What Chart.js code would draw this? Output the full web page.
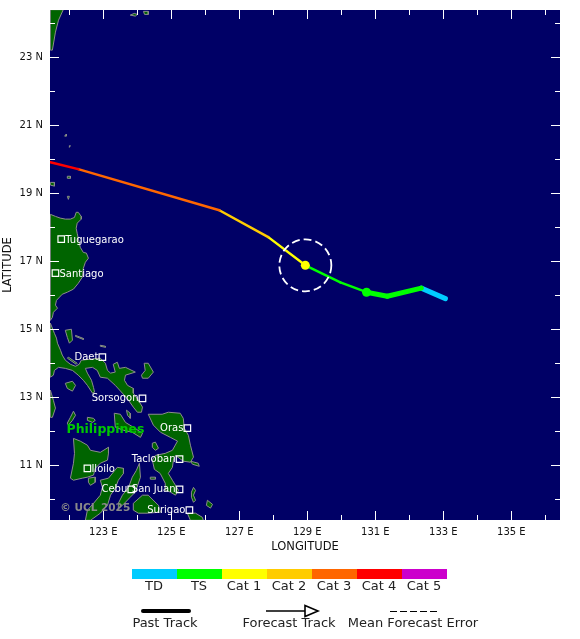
<!DOCTYPE html>
<html>
<head>
<meta charset="utf-8">
<title>Track</title>
<script src="https://cdn.jsdelivr.net/npm/chart.js@4"></script>
<style>
  html, body { margin: 0; padding: 0; background: #fff; }
  canvas { display: block; }
</style>
</head>
<body>
<canvas id="trackChart" width="580" height="639"></canvas>
<script>
// axis ticks
const lonTicks = [122,123,124,125,126,127,128,129,130,131,132,133,134,135,136];
const latTicks = [10,11,12,13,14,15,16,17,18,19,20,21,22,23,24];

// storm track, one entry per fix
const trackLon = [121.44,122.26,126.41,127.85,128.94,129.97,130.74,131.35,132.35,133.06];
const trackLat = [19.91,19.71,18.50,17.71,16.88,16.38,16.09,15.97,16.21,15.90];
// colour of the segment ending at each fix (the first one is unused)
const segmentCat = [null,"Cat 4","Cat 3","Cat 2","Cat 1","TS","TS","TS","TS","TD"];
const segmentPast = [false,false,false,false,false,false,false,true,true,true];

const categories = ["TD","TS","Cat 1","Cat 2","Cat 3","Cat 4","Cat 5"];
const catColours = ["#00ccff","#00ff00","#ffff00","#ffcc00","#ff6600","#ff0000","#cc00cc"];

// markers on the track
const markerLon = [128.94,130.74];
const markerLat = [16.88,16.09];
const markerCat = ["Cat 1","TS"];
const errorRadiusDeg = 0.765;

// cities
const cityNames = ["Tuguegarao","Santiago","Daet","Sorsogon","Oras","Tacloban","Iloilo","Cebu","San Juan","Surigao"];
const cityLon = [121.76,121.59,122.97,124.15,125.47,125.24,122.53,123.82,125.24,125.53];
const cityLat = [17.65,16.65,14.18,12.97,12.09,11.18,10.91,10.29,10.29,9.68];
const citySide = ["right","right","left","left","left","left","right","left","left","left"];

// land outlines as [lon, lat]
const landTaiwan = [[121.44,24.40],[121.82,24.40],[121.68,24.09],[121.59,23.74],[121.50,23.21],[121.44,23.21]];
const landYaeyama1 = [[123.79,24.24],[123.91,24.29],[124.00,24.26],[123.94,24.21]];
const landYaeyama2 = [[124.18,24.35],[124.32,24.35],[124.32,24.26],[124.21,24.26]];
const landBabuyan1 = [[121.44,19.32],[121.56,19.32],[121.56,19.21],[121.44,19.24]];
const landBabuyan2 = [[121.94,18.91],[122.00,18.91],[121.97,18.82]];
const landBabuyan3 = [[121.94,19.50],[122.03,19.50],[122.03,19.44],[121.94,19.44]];
const landBatan1 = [[121.86,20.68],[121.91,20.74],[121.91,20.68]];
const landBatan2 = [[122.00,20.40],[122.03,20.40],[122.00,20.35]];
const landLuzonNorth = [[121.44,18.38],[121.59,18.32],[121.73,18.27],[121.88,18.24],[122.03,18.24],[122.15,18.29],[122.20,18.44],[122.26,18.44],[122.35,18.32],[122.35,18.24],[122.23,18.12],[122.20,17.97],[122.23,17.82],[122.26,17.68],[122.32,17.41],[122.41,17.26],[122.50,17.24],[122.56,17.09],[122.47,16.97],[122.41,16.79],[122.38,16.53],[122.26,16.35],[122.12,16.18],[121.94,16.09],[121.79,16.03],[121.62,15.85],[121.59,15.71],[121.65,15.62],[121.53,15.50],[121.50,15.35],[121.44,15.26]];
const landLuzonSouth = [[121.44,15.18],[121.56,14.88],[121.62,14.74],[121.65,14.59],[121.74,14.38],[121.79,14.24],[121.88,14.09],[122.03,13.97],[122.18,13.91],[122.29,13.97],[122.35,14.09],[122.62,14.12],[122.91,14.15],[123.06,14.00],[123.12,13.79],[123.21,13.71],[123.35,13.74],[123.29,13.97],[123.41,14.03],[123.47,13.85],[123.65,13.88],[123.94,13.74],[123.65,13.65],[123.62,13.50],[123.71,13.35],[123.88,13.26],[123.88,13.12],[124.03,12.91],[124.15,12.71],[124.12,12.56],[124.00,12.56],[123.88,12.71],[123.74,12.91],[123.56,13.12],[123.35,13.35],[123.12,13.56],[122.91,13.59],[122.82,13.79],[122.68,13.88],[122.47,13.85],[122.53,13.71],[122.65,13.50],[122.71,13.29],[122.74,13.15],[122.68,13.12],[122.53,13.35],[122.41,13.50],[122.26,13.65],[122.09,13.79],[121.88,13.85],[121.68,13.88],[121.56,13.79],[121.53,13.65],[121.44,13.59]];
const landPolillo = [[121.88,14.97],[122.06,15.00],[122.09,14.68],[122.00,14.59],[121.94,14.76]];
const landIslet1 = [[121.97,14.18],[122.23,14.00],[122.20,13.97],[121.94,14.15]];
const landIslet2 = [[122.18,14.82],[122.41,14.73],[122.41,14.70],[122.18,14.79]];
const landIslet3 = [[122.91,14.53],[123.06,14.50],[123.06,14.47],[122.91,14.50]];
const landMarinduque = [[121.88,13.41],[122.09,13.47],[122.18,13.35],[122.09,13.18],[121.94,13.26]];
const landCatanduanes = [[124.20,14.00],[124.32,14.00],[124.47,13.74],[124.32,13.56],[124.15,13.56],[124.12,13.65],[124.23,13.79]];
const landMindoro = [[121.44,13.21],[121.53,12.91],[121.59,12.68],[121.50,12.41],[121.44,12.41]];
const landTablas = [[122.12,12.59],[122.18,12.47],[122.09,12.32],[121.97,12.18],[121.94,12.24],[122.03,12.41]];
const landSibuyan = [[122.53,12.41],[122.71,12.38],[122.76,12.32],[122.68,12.26],[122.53,12.32]];
const landMasbate = [[123.32,12.53],[123.50,12.50],[123.65,12.26],[123.88,12.12],[124.15,11.94],[124.09,11.82],[123.85,11.97],[123.59,12.03],[123.35,12.12]];
const landTicao = [[123.68,12.62],[123.79,12.53],[123.79,12.38],[123.71,12.47]];
const landSamarLeyte = [[124.32,12.50],[124.73,12.50],[124.91,12.56],[125.26,12.53],[125.35,12.38],[125.38,12.09],[125.50,11.88],[125.56,11.59],[125.65,11.24],[125.56,11.09],[125.35,11.12],[125.12,11.29],[125.06,11.15],[125.03,10.94],[124.91,10.76],[125.03,10.56],[125.12,10.41],[125.21,10.26],[125.12,10.12],[124.97,10.21],[124.82,10.26],[124.82,10.47],[124.67,10.76],[124.50,10.88],[124.44,11.15],[124.53,11.29],[124.82,11.35],[125.03,11.44],[125.18,11.71],[124.97,11.82],[124.68,11.97],[124.47,12.18]];
const landBiliran = [[124.44,11.65],[124.53,11.68],[124.62,11.50],[124.53,11.44],[124.44,11.53]];
const landGuiuan = [[125.56,11.12],[125.79,11.06],[125.82,10.97],[125.62,11.03]];
const landDinagat = [[125.65,10.35],[125.71,10.26],[125.65,10.12],[125.71,9.97],[125.65,9.91],[125.59,10.06],[125.59,10.21]];
const landSiargao = [[126.06,9.97],[126.21,9.85],[126.15,9.74],[126.03,9.82]];
const landMindanao = [[125.47,9.59],[125.71,9.59],[125.91,9.47],[125.94,9.38],[125.56,9.38]];
const landBohol = [[123.88,9.88],[124.15,10.12],[124.32,10.12],[124.62,9.82],[124.68,9.62],[124.29,9.59],[124.03,9.59],[123.88,9.68]];
const landCamotes = [[124.38,10.65],[124.53,10.65],[124.53,10.59],[124.38,10.59]];
const landCebu = [[124.06,11.06],[124.09,10.65],[123.94,10.21],[123.79,10.06],[123.56,9.82],[123.44,9.74],[123.44,9.88],[123.56,10.12],[123.74,10.35],[123.85,10.65],[123.97,10.85]];
const landPanay = [[122.12,11.79],[122.32,11.71],[122.53,11.59],[122.62,11.44],[122.91,11.38],[123.15,11.53],[123.15,11.35],[123.12,11.15],[122.91,11.06],[122.76,10.91],[122.71,10.71],[122.53,10.65],[122.38,10.62],[122.12,10.56],[122.03,10.62],[122.12,11.06],[122.15,11.35]];
const landGuimaras = [[122.56,10.62],[122.76,10.65],[122.76,10.50],[122.62,10.41],[122.56,10.50]];
const landNegros = [[122.91,10.56],[123.15,10.62],[123.41,10.94],[123.59,10.91],[123.59,10.76],[123.44,10.56],[123.35,10.32],[123.21,10.12],[123.12,9.82],[122.91,9.59],[122.62,9.38],[122.47,9.38],[122.53,9.68],[122.71,9.88],[122.91,10.12],[122.97,10.35]];

const landShapes = [landTaiwan,landYaeyama1,landYaeyama2,landBabuyan1,landBabuyan2,landBabuyan3,landBatan1,landBatan2,landLuzonNorth,landLuzonSouth,landPolillo,landIslet1,landIslet2,landIslet3,landMarinduque,landCatanduanes,landMindoro,landTablas,landSibuyan,landMasbate,landTicao,landSamarLeyte,landBiliran,landGuiuan,landDinagat,landSiargao,landMindanao,landBohol,landCamotes,landCebu,landPanay,landGuimaras,landNegros];

const NAVY = "#000066";
const FONT = '"DejaVu Sans"';

function catColour(name) {
  return catColours[categories.indexOf(name)];
}

const datasets = [];

// land first, highest order so it is painted under everything
landShapes.forEach(function (shape) {
  const pts = shape.map(function (p) { return { x: p[0], y: p[1] }; });
  pts.push(pts[0]);
  datasets.push({
    data: pts,
    showLine: true,
    fill: "shape",
    backgroundColor: "#006400",
    borderColor: "#8c8c8c",
    borderWidth: 1,
    pointRadius: 0,
    tension: 0,
    order: 10
  });
});

// one small dataset for each track segment so each gets its own colour
for (let i = 1; i < trackLon.length; i++) {
  datasets.push({
    data: [{ x: trackLon[i - 1], y: trackLat[i - 1] }, { x: trackLon[i], y: trackLat[i] }],
    showLine: true,
    borderColor: catColour(segmentCat[i]),
    borderWidth: segmentPast[i] ? 5 : 2.5,
    borderCapStyle: "round",
    pointRadius: 0,
    tension: 0,
    order: 5
  });
}

datasets.push({
  data: markerLon.map(function (lon, i) { return { x: lon, y: markerLat[i] }; }),
  pointRadius: 4.5,
  pointBackgroundColor: markerCat.map(catColour),
  pointBorderWidth: 0,
  order: 1
});

datasets.push({
  data: cityLon.map(function (lon, i) { return { x: lon, y: cityLat[i] }; }),
  pointStyle: "rect",
  pointRadius: 4.6,
  pointBackgroundColor: "rgba(0,0,0,0)",
  pointBorderColor: "#ffffff",
  pointBorderWidth: 1.2,
  order: 2
});

// navy sea behind the datasets
const seaPlugin = {
  id: "sea",
  beforeDatasetsDraw(chart) {
    const a = chart.chartArea;
    chart.ctx.fillStyle = NAVY;
    chart.ctx.fillRect(a.left, a.top, a.width, a.height);
  }
};

// ticks point inwards on all four sides, labels and error circle go on top
const overlayPlugin = {
  id: "overlay",
  afterDatasetsDraw(chart) {
    const ctx = chart.ctx;
    const a = chart.chartArea;
    const xs = chart.scales.x;
    const ys = chart.scales.y;

    ctx.save();
    ctx.strokeStyle = "#ffffff";
    ctx.lineWidth = 1;
    ctx.beginPath();
    lonTicks.forEach(function (v) {
      const len = v % 2 ? 9 : 5;
      const px = Math.floor(xs.getPixelForValue(v)) + 0.5;
      ctx.moveTo(px, a.top);
      ctx.lineTo(px, a.top + len);
      ctx.moveTo(px, a.bottom);
      ctx.lineTo(px, a.bottom - len);
    });
    latTicks.forEach(function (v) {
      const len = v % 2 ? 9 : 5;
      const py = Math.floor(ys.getPixelForValue(v)) + 0.5;
      ctx.moveTo(a.left, py);
      ctx.lineTo(a.left + len, py);
      ctx.moveTo(a.right, py);
      ctx.lineTo(a.right - len, py);
    });
    ctx.stroke();

    // mean forecast error circle
    const cx = xs.getPixelForValue(markerLon[0]);
    const cy = ys.getPixelForValue(markerLat[0]);
    const r = xs.getPixelForValue(markerLon[0] + errorRadiusDeg) - cx;
    ctx.lineWidth = 1.8;
    ctx.setLineDash([8, 4]);
    ctx.beginPath();
    ctx.arc(cx, cy, r, 0, Math.PI * 2);
    ctx.stroke();
    ctx.setLineDash([]);

    // city names
    ctx.fillStyle = "#ffffff";
    ctx.font = "10px " + FONT;
    ctx.textBaseline = "middle";
    cityNames.forEach(function (name, i) {
      const px = xs.getPixelForValue(cityLon[i]);
      const py = ys.getPixelForValue(cityLat[i]);
      if (citySide[i] === "right") {
        ctx.textAlign = "left";
        ctx.fillText(name, px + 4, py + 1);
      } else {
        ctx.textAlign = "right";
        ctx.fillText(name, px - 4, py);
      }
    });

    ctx.textAlign = "center";
    ctx.fillStyle = "#00c800";
    ctx.font = "bold 12.5px " + FONT;
    ctx.fillText("Philippines", xs.getPixelForValue(123.06), ys.getPixelForValue(12.03));
    ctx.fillStyle = "#8a8a8a";
    ctx.font = "bold 10.5px " + FONT;
    ctx.fillText("© UCL 2025", xs.getPixelForValue(122.76), ys.getPixelForValue(9.68) - 2);
    ctx.restore();
  },

  // colour key and line key under the plot
  afterDraw(chart) {
    const ctx = chart.ctx;
    ctx.save();
    ctx.font = "13px " + FONT;
    ctx.textAlign = "center";
    ctx.textBaseline = "middle";
    categories.forEach(function (name, i) {
      ctx.fillStyle = catColours[i];
      ctx.fillRect(132 + i * 45, 569, 45, 10);
      ctx.fillStyle = "#222222";
      ctx.fillText(name, 154 + i * 45, 587);
    });

    ctx.strokeStyle = "#000000";
    ctx.lineCap = "round";
    ctx.lineWidth = 4;
    ctx.beginPath();
    ctx.moveTo(143, 611);
    ctx.lineTo(189, 611);
    ctx.stroke();
    ctx.lineCap = "butt";
    ctx.lineWidth = 1.6;
    ctx.beginPath();
    ctx.moveTo(266, 611);
    ctx.lineTo(305, 611);
    ctx.moveTo(305, 605.5);
    ctx.lineTo(318, 611);
    ctx.lineTo(305, 616.5);
    ctx.closePath();
    ctx.stroke();
    ctx.lineWidth = 1;
    ctx.setLineDash([7, 3]);
    ctx.beginPath();
    ctx.moveTo(390, 611.5);
    ctx.lineTo(437, 611.5);
    ctx.stroke();
    ctx.setLineDash([]);

    ctx.fillStyle = "#222222";
    ctx.fillText("Past Track", 165, 623.5);
    ctx.fillText("Forecast Track", 289, 623.5);
    ctx.fillText("Mean Forecast Error", 413, 623.5);
    ctx.restore();
  }
};

new Chart(document.getElementById("trackChart"), {
  type: "scatter",
  data: { datasets: datasets },
  plugins: [seaPlugin, overlayPlugin],
  options: {
    responsive: false,
    animation: false,
    events: [],
    layout: { padding: { top: 10, right: 20, left: 0, bottom: 0 } },
    plugins: { legend: { display: false }, tooltip: { enabled: false } },
    scales: {
      x: {
        type: "linear",
        min: 121.43,
        max: 136.43,
        grid: { display: false, drawTicks: false },
        border: { display: false },
        afterBuildTicks: function (scale) {
          scale.ticks = lonTicks.map(function (v) { return { value: v }; });
        },
        afterFit: function (scale) {
          scale.height = 119;
          scale.paddingLeft = 0;
          scale.paddingRight = 0;
        },
        ticks: {
          autoSkip: false,
          maxRotation: 0,
          padding: 6,
          color: "#111111",
          font: { family: FONT, size: 10 },
          callback: function (v) { return v % 2 ? v + " E" : ""; }
        },
        title: {
          display: true,
          text: "LONGITUDE",
          color: "#111111",
          font: { family: FONT, size: 11.5 },
          padding: { top: 0, bottom: 85 }
        }
      },
      y: {
        type: "linear",
        min: 9.39,
        max: 24.39,
        grid: { display: false, drawTicks: false },
        border: { display: false },
        afterBuildTicks: function (scale) {
          scale.ticks = latTicks.map(function (v) { return { value: v }; });
        },
        afterFit: function (scale) {
          scale.width = 50;
          scale.paddingTop = 0;
          scale.paddingBottom = 0;
        },
        ticks: {
          autoSkip: false,
          padding: 7,
          color: "#111111",
          font: { family: FONT, size: 10 },
          callback: function (v) { return v % 2 ? v + " N" : ""; }
        },
        title: {
          display: true,
          text: "LATITUDE",
          color: "#111111",
          font: { family: FONT, size: 11.5 },
          padding: { top: 1, bottom: 0 }
        }
      }
    }
  }
});
</script>
</body>
</html>
